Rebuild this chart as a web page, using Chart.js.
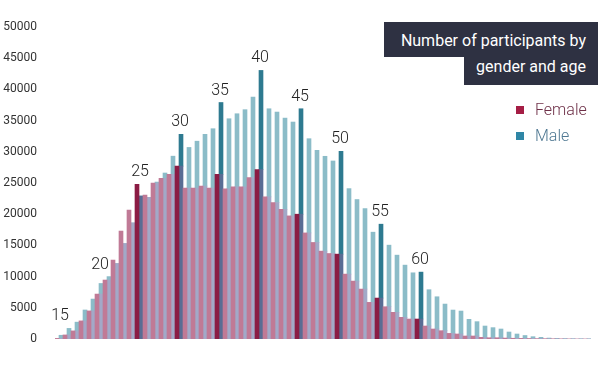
<!DOCTYPE html>
<html>
<head>
<meta charset="utf-8">
<script src="https://cdn.jsdelivr.net/npm/chart.js@4"></script>
<style>
  body { margin: 0; background: #fff; font-family: Roboto, "Noto Sans", sans-serif; }
  #wrap { position: relative; width: 598px; height: 366px; }
  #title { position: absolute; right: 0; top: 22px; text-align: right; color: #fff; font-size: 16px; }
  #title span { display: inline-block; background: #2e3142; padding: 0 12px; }
  #title .l1 { width: 190px; height: 35px; line-height: 38px; }
  #title .l2 { height: 28px; line-height: 20px; }
  #legend { position: absolute; left: 516px; top: 100px; font-size: 16px; font-weight: 300; }
  .item { height: 26px; line-height: 20px; }
  .sw { display: inline-block; width: 8px; height: 8px; margin-right: 11px; vertical-align: 1px; }
</style>
</head>
<body>
<div id="wrap">
  <canvas id="chart" width="598" height="366"></canvas>
  <div id="title"><span class="l1">Number of participants by</span><br><span class="l2">gender and age</span></div>
  <div id="legend">
    <div class="item" style="color:#6e3048"><span class="sw" style="background:#a51d45"></span>Female</div>
    <div class="item" style="color:#4f7892"><span class="sw" style="background:#2f86a6"></span>Male</div>
  </div>
</div>
<script>
// ages 15..81
const ages = [];
for (let a = 15; a <= 81; a++) ages.push(a);

const female = [100, 650, 1300, 2900, 4500, 7200, 9450, 12650, 17300, 20650,
  24800, 23050, 25000, 25750, 26400, 27700, 24200, 24200, 24500, 24200,
  26400, 24050, 24400, 24400, 25870, 27150, 22770, 21870, 20800, 19730,
  20000, 17000, 15470, 14080, 13700, 13600, 10400, 9280, 8000, 5870,
  6560, 5170, 4270, 3470, 3200, 3200, 2080, 1600, 1330, 900,
  800, 480, 480, 270, 200, 200, 150, 120, 100, 80,
  60, 50, 40, 30, 20, 10, 10];

const male = [600, 1700, 2700, 4650, 6400, 8900, 10000, 12100, 15300, 18600,
  22900, 22700, 25150, 26600, 29300, 32800, 30700, 31700, 32800, 33700,
  37900, 35300, 36100, 36750, 38770, 43040, 36900, 36370, 35400, 34770,
  36900, 32100, 30240, 29280, 28530, 30080, 24100, 22350, 20900, 17120,
  18400, 15040, 13440, 11840, 10610, 10720, 7900, 6770, 5600, 4640,
  4480, 3150, 2780, 2080, 1820, 1600, 1120, 800, 560, 370,
  270, 150, 100, 60, 40, 30, 20];

const labelAges = [15, 20, 25, 30, 35, 40, 45, 50, 55, 60];
const highlightAges = [25, 30, 35, 40, 45, 50, 55, 60];
const yTicks = [0, 5000, 10000, 15000, 20000, 25000, 30000, 35000, 40000, 45000, 50000];

const isHi = (i) => highlightAges.includes(ages[i]);

// male bar split: part hidden behind female height, and part above it
const maleLow = male.map((m, i) => Math.min(m, female[i]));
const maleHigh = male.map((m, i) => Math.max(m - female[i], 0));

const ageLabels = {
  id: 'ageLabels',
  afterDatasetsDraw(chart) {
    const { ctx, scales: { x, y } } = chart;
    ctx.save();
    ctx.font = '300 16px Roboto';
    ctx.fillStyle = '#222';
    ctx.textAlign = 'center';
    ctx.textBaseline = 'middle';
    labelAges.forEach(a => {
      const i = ages.indexOf(a);
      let top = 0;
      for (let k = i - 1; k <= i + 1; k++) {
        if (k >= 0 && k < ages.length) top = Math.max(top, female[k], male[k]);
      }
      ctx.fillText(String(a), x.getPixelForValue(i) + 1, y.getPixelForValue(top) - 12);
    });
    ctx.restore();
  }
};

const common = { barPercentage: 1, categoryPercentage: 1, borderWidth: 0 };

new Chart(document.getElementById('chart'), {
  type: 'bar',
  data: {
    labels: ages,
    datasets: [
      { ...common, label: 'Female', data: female, stack: 'f',
        backgroundColor: female.map((v, i) => isHi(i) ? '#8b1c44' : '#c07a96') },
      { ...common, label: 'Male', data: maleLow, stack: 'm',
        backgroundColor: male.map((v, i) => isHi(i) ? '#596d94' : '#a2a9c8') },
      { ...common, label: 'Male top', data: maleHigh, stack: 'm',
        backgroundColor: male.map((v, i) => isHi(i) ? '#2e7a90' : '#8bbcc8') }
    ]
  },
  options: {
    responsive: false,
    animation: false,
    layout: { padding: { top: 27, bottom: 27, left: 0, right: 7 } },
    plugins: { legend: { display: false }, tooltip: { enabled: false } },
    scales: {
      x: { display: false, offset: true },
      y: {
        min: 0, max: 50000,
        afterBuildTicks: (s) => { s.ticks = yTicks.map(v => ({ value: v })); },
        afterFit: (s) => { s.width = 55; },
        grid: { display: false },
        border: { display: false },
        ticks: {
          padding: 10, color: '#333', font: { family: 'Roboto', size: 12 },
          callback: (v) => String(v)
        }
      }
    }
  },
  plugins: [ageLabels]
});
</script>
</body>
</html>
